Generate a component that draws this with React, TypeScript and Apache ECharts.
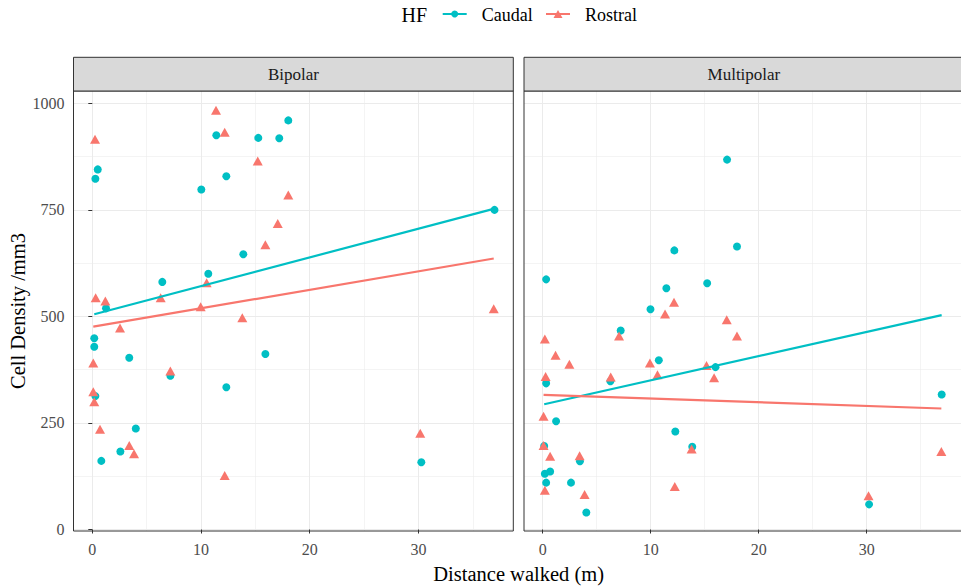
import { useEffect, useRef } from "react";
import * as echarts from "echarts";

// ---------- data ----------
const facets = ["Bipolar", "Multipolar"];
const groups = ["Caudal", "Rostral"];
const groupColors = ["#00BFC4", "#F8766D"];
const legendTitle = "HF";
const xTitle = "Distance walked (m)";
const yTitle = "Cell Density /mm3";
const xTicks = [0, 10, 20, 30];
const yTicks = [0, 250, 500, 750, 1000];

// [distance walked (m), cell density /mm3]
const bipolarCaudal = [
  [0.28, 823], [0.5, 845], [1.26, 519], [0.18, 449], [0.18, 429], [0.28, 313],
  [3.4, 403], [4.0, 237], [2.58, 183], [0.83, 161], [7.18, 361], [12.33, 334],
  [15.92, 412], [6.44, 581], [10.67, 600], [10.03, 798], [12.33, 829], [11.41, 925],
  [15.27, 919], [17.2, 918], [18.03, 960], [13.89, 646], [37.0, 750], [30.27, 158],
];
const bipolarRostral = [
  [0.25, 916], [0.31, 544], [1.2, 536], [6.29, 544], [9.97, 523], [11.38, 984],
  [12.18, 932], [15.22, 865], [18.03, 785], [17.06, 718], [15.92, 668], [10.52, 579],
  [2.55, 473], [13.8, 497], [0.09, 391], [7.18, 372], [0.09, 323], [0.18, 300],
  [0.71, 235], [3.4, 197], [3.84, 178], [12.18, 127], [30.17, 226], [36.93, 518],
];
const multipolarCaudal = [
  [17.07, 868], [17.99, 664], [12.19, 655], [0.32, 587], [15.23, 578], [11.45, 566],
  [9.98, 517], [7.22, 467], [10.75, 397], [16.0, 381], [0.32, 343], [6.27, 348],
  [1.24, 254], [12.28, 230], [0.14, 196], [13.85, 194], [3.45, 160], [0.69, 136],
  [0.2, 131], [0.32, 110], [2.62, 110], [4.04, 40], [36.94, 317], [30.22, 59],
];
const multipolarRostral = [
  [0.2, 447], [0.27, 359], [1.19, 409], [2.47, 388], [7.07, 454], [11.33, 506],
  [12.16, 533], [17.04, 492], [17.99, 454], [9.93, 391], [10.63, 363], [15.17, 385],
  [15.87, 356], [6.3, 358], [0.08, 266], [0.08, 197], [0.69, 172], [3.42, 173],
  [0.2, 92], [3.88, 82], [12.23, 101], [13.79, 189], [36.91, 183], [30.17, 79],
];
// linear-fit lines (end points)
const bipolarCaudalFit = [[0.18, 505], [37.0, 753]];
const bipolarRostralFit = [[0.09, 476], [36.93, 636]];
const multipolarCaudalFit = [[0.14, 294], [36.94, 503]];
const multipolarRostralFit = [[0.08, 316], [36.91, 284]];

const pointsByFacet = [
  [bipolarCaudal, bipolarRostral],
  [multipolarCaudal, multipolarRostral],
];
const fitsByFacet = [
  [bipolarCaudalFit, bipolarRostralFit],
  [multipolarCaudalFit, multipolarRostralFit],
];

// ---------- layout / style ----------
const FONT = "'Liberation Serif', 'Times New Roman', Times, serif";
const PANEL_TOP = 91;
const PANEL_H = 440;
const PANEL_W = 439.8;
const PANEL_LEFTS = [73.5, 524];
const STRIP_TOP = 57.3;
const X_MIN = -1.73;
const X_MAX = 38.73;
const Y_MIN = -3.5;
const Y_MAX = 1029;

function buildOption() {
  const grid = PANEL_LEFTS.map((left) => ({
    left,
    top: PANEL_TOP,
    width: PANEL_W,
    height: PANEL_H,
    show: true,
    backgroundColor: "#FFFFFF",
    borderWidth: 0,
    containLabel: false,
  }));

  const xAxis = PANEL_LEFTS.map((_, i) => ({
    type: "value",
    gridIndex: i,
    min: X_MIN,
    max: X_MAX,
    minInterval: 10,
    maxInterval: 10,
    axisLine: { show: false },
    axisTick: {
      show: true,
      length: 4,
      customValues: xTicks,
      lineStyle: { color: "#333333", width: 1 },
    },
    axisLabel: {
      show: true,
      customValues: xTicks,
      margin: 10,
      color: "#4D4D4D",
      fontSize: 16,
      fontFamily: FONT,
      formatter: (v: number) => (xTicks.indexOf(v) >= 0 ? String(v) : ""),
    },
    splitLine: { show: true, lineStyle: { color: "#EBEBEB", width: 1 } },
    minorTick: { show: false, splitNumber: 2 },
    minorSplitLine: { show: true, lineStyle: { color: "#EBEBEB", width: 0.55 } },
  }));

  const yAxis = PANEL_LEFTS.map((_, i) => ({
    type: "value",
    gridIndex: i,
    min: Y_MIN,
    max: Y_MAX,
    minInterval: 250,
    maxInterval: 250,
    axisLine: { show: false },
    axisTick: {
      show: i === 0,
      length: 4,
      customValues: yTicks,
      lineStyle: { color: "#333333", width: 1 },
    },
    axisLabel: {
      show: i === 0,
      customValues: yTicks,
      margin: 9,
      color: "#4D4D4D",
      fontSize: 16,
      fontFamily: FONT,
      formatter: (v: number) => (yTicks.indexOf(v) >= 0 ? String(v) : ""),
    },
    splitLine: { show: true, lineStyle: { color: "#EBEBEB", width: 1 } },
    minorTick: { show: false, splitNumber: 2 },
    minorSplitLine: { show: true, lineStyle: { color: "#EBEBEB", width: 0.55 } },
  }));

  const series: any[] = [];
  facets.forEach((facet, fi) => {
    groups.forEach((g, gi) => {
      series.push({
        name: `${facet} ${g}`,
        type: "scatter",
        xAxisIndex: fi,
        yAxisIndex: fi,
        data: pointsByFacet[fi][gi],
        symbol: gi === 0 ? "circle" : "triangle",
        symbolSize: gi === 0 ? 8 : [10, 9],
        itemStyle: { color: groupColors[gi], opacity: 1 },
        silent: true,
        z: 2,
      });
    });
    groups.forEach((g, gi) => {
      series.push({
        name: `${facet} ${g} fit`,
        type: "line",
        xAxisIndex: fi,
        yAxisIndex: fi,
        data: fitsByFacet[fi][gi],
        showSymbol: false,
        symbol: "none",
        lineStyle: { color: groupColors[gi], width: 2.2 },
        silent: true,
        z: 3,
      });
    });
  });

  const graphic: any[] = [];
  // panel borders
  PANEL_LEFTS.forEach((left) => {
    graphic.push({
      type: "rect",
      z: 50,
      silent: true,
      shape: { x: left, y: PANEL_TOP, width: PANEL_W, height: PANEL_H },
      style: { fill: "none", stroke: "#333333", lineWidth: 1 },
    });
  });
  // strips
  PANEL_LEFTS.forEach((left, fi) => {
    graphic.push({
      type: "rect",
      z: 51,
      silent: true,
      shape: { x: left, y: STRIP_TOP, width: PANEL_W, height: PANEL_TOP - STRIP_TOP },
      style: { fill: "#D9D9D9", stroke: "#333333", lineWidth: 1 },
    });
    graphic.push({
      type: "text",
      z: 52,
      silent: true,
      x: left + PANEL_W / 2,
      y: (STRIP_TOP + PANEL_TOP) / 2,
      style: {
        text: facets[fi],
        fill: "#1A1A1A",
        fontSize: 17,
        fontFamily: FONT,
        align: "center",
        verticalAlign: "middle",
      },
    });
  });
  // legend
  const legendY = 14;
  graphic.push({
    type: "text",
    silent: true,
    x: 401.5,
    y: 15,
    style: { text: legendTitle, fill: "#000000", fontSize: 20, fontFamily: FONT, align: "left", verticalAlign: "middle" },
  });
  const keyLefts = [442.7, 546];
  const labelLefts = [481.7, 585];
  groups.forEach((g, gi) => {
    const kx = keyLefts[gi];
    graphic.push({
      type: "line",
      silent: true,
      shape: { x1: kx, y1: legendY, x2: kx + 24, y2: legendY },
      style: { stroke: groupColors[gi], lineWidth: 2 },
    });
    if (gi === 0) {
      graphic.push({
        type: "circle",
        silent: true,
        shape: { cx: kx + 12, cy: legendY, r: 3.5 },
        style: { fill: groupColors[gi] },
      });
    } else {
      graphic.push({
        type: "polygon",
        silent: true,
        shape: { points: [[kx + 7.5, legendY + 4], [kx + 16.5, legendY + 4], [kx + 12, legendY - 4]] },
        style: { fill: groupColors[gi] },
      });
    }
    graphic.push({
      type: "text",
      silent: true,
      x: labelLefts[gi],
      y: 15,
      style: { text: g, fill: "#000000", fontSize: 18, fontFamily: FONT, align: "left", verticalAlign: "middle" },
    });
  });
  // axis titles
  graphic.push({
    type: "text",
    silent: true,
    x: (PANEL_LEFTS[0] + PANEL_LEFTS[1] + PANEL_W) / 2,
    y: 574,
    style: { text: xTitle, fill: "#000000", fontSize: 20.5, fontFamily: FONT, align: "center", verticalAlign: "middle" },
  });
  graphic.push({
    type: "text",
    silent: true,
    x: 18,
    y: PANEL_TOP + PANEL_H / 2,
    rotation: Math.PI / 2,
    style: { text: yTitle, fill: "#000000", fontSize: 20.5, fontFamily: FONT, align: "center", verticalAlign: "middle" },
  });

  return {
    animation: false,
    backgroundColor: "#FFFFFF",
    textStyle: { fontFamily: FONT },
    grid,
    xAxis,
    yAxis,
    series,
    graphic,
  };
}

export default function App() {
  const ref = useRef<HTMLDivElement>(null);
  useEffect(() => {
    if (!ref.current) return;
    const chart = echarts.init(ref.current, null, { renderer: "svg" });
    chart.setOption(buildOption() as any);
    return () => chart.dispose();
  }, []);
  return (
    <div
      ref={ref}
      style={{ position: "absolute", left: 0, top: 0, width: 961, height: 586 }}
    />
  );
}
